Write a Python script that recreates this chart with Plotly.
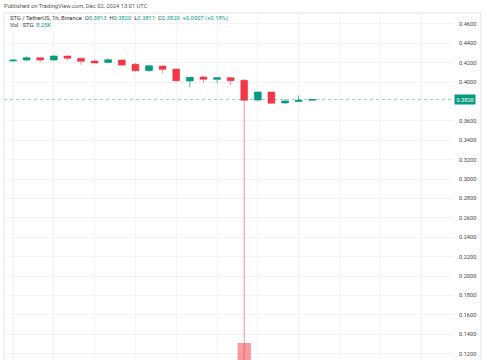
import plotly.graph_objects as go
import pandas as pd

# ---- data ----
start = pd.Timestamp("2024-12-01 15:00")
times = [start + pd.Timedelta(hours=i) for i in range(23)]
opens = [0.4218, 0.4227, 0.4251, 0.4227, 0.4268, 0.4245, 0.4217, 0.4203, 0.4227, 0.4183,
         0.4117, 0.4165, 0.4134, 0.4011, 0.4052, 0.4028, 0.4045, 0.4018, 0.3815, 0.3897,
         0.3785, 0.3800, 0.3813]
highs = [0.4238, 0.4265, 0.4254, 0.4279, 0.4275, 0.4250, 0.4234, 0.4245, 0.4232, 0.4196,
         0.4172, 0.4170, 0.4137, 0.4052, 0.4062, 0.4050, 0.4052, 0.4031, 0.3900, 0.3899,
         0.3825, 0.3863, 0.3820]
lows = [0.4210, 0.4222, 0.4204, 0.4220, 0.4220, 0.4179, 0.4192, 0.4197, 0.4165, 0.4107,
        0.4107, 0.4090, 0.4003, 0.3946, 0.3993, 0.3987, 0.3966, 0.0900, 0.3801, 0.3779,
        0.3774, 0.3797, 0.3811]
closes = [0.4226, 0.4251, 0.4227, 0.4268, 0.4245, 0.4214, 0.4197, 0.4230, 0.4175, 0.4117,
          0.4168, 0.4131, 0.4014, 0.4049, 0.4028, 0.4045, 0.4014, 0.3812, 0.3897, 0.3781,
          0.3805, 0.3813, 0.3820]
volumes = [12000, 9000, 11000, 15000, 10000, 14000, 9000, 8000, 16000, 30000,
           20000, 18000, 45000, 35000, 15000, 12000, 20000, 2000000, 90000, 60000,
           25000, 15000, 8250]
price_ticks = [0.12, 0.14, 0.16, 0.18, 0.20, 0.22, 0.24, 0.26, 0.28, 0.30, 0.32, 0.34,
               0.36, 0.40, 0.42, 0.44, 0.46]
price_tick_labels = [f"{v:.4f}" for v in price_ticks]

GREEN = "#089981"
RED = "#F23645"

vol_colors = ["rgba(8,153,129,0.5)" if c >= o else "rgba(242,54,69,0.5)"
              for o, c in zip(opens, closes)]

fig = go.Figure()
vmax = max(volumes)
fig.add_trace(go.Bar(x=times, y=volumes, marker_color=vol_colors, marker_line_width=0,
                     yaxis="y2", hoverinfo="skip", showlegend=False))
fig.add_trace(go.Candlestick(
    x=times, open=opens, high=highs, low=lows, close=closes,
    increasing=dict(line=dict(color="rgba(8,153,129,0.65)", width=1), fillcolor=GREEN),
    decreasing=dict(line=dict(color="rgba(242,54,69,0.55)", width=1), fillcolor=RED),
    showlegend=False, whiskerwidth=0))

hour = pd.Timedelta(hours=1)
last = closes[-1]
G = "<span style='color:#089981'>"

fig.update_layout(
    width=485, height=360,
    margin=dict(l=4, r=32, t=14, b=0),
    paper_bgcolor="white", plot_bgcolor="white",
    bargap=0.02, boxgap=0.28,
    font=dict(family="Roboto, sans-serif", size=6, color="#333"),
    xaxis=dict(type="date", range=[start - 0.662 * hour, start + 32.35 * hour],
               rangeslider=dict(visible=False), showticklabels=False,
               tick0=start, dtick=3 * 3600 * 1000, showgrid=True,
               gridcolor="#f0f3fa", gridwidth=1, zeroline=False, showline=False),
    yaxis=dict(side="right", range=[0.1134, 0.4702], tickvals=price_ticks,
               ticktext=price_tick_labels, showgrid=True, gridcolor="#f0f3fa",
               gridwidth=1, zeroline=False, ticks="outside", ticklen=4,
               tickcolor="rgba(0,0,0,0)", tickfont=dict(size=5.6, color="#444")),
    yaxis2=dict(overlaying="y", range=[0.673 * vmax, 7.33 * vmax], visible=False,
                showgrid=False),
    shapes=[
        dict(type="line", xref="paper", yref="y", x0=0, x1=1, y0=last, y1=last,
             line=dict(color="rgba(8,153,129,0.45)", width=1, dash="dot")),
        dict(type="line", xref="paper", yref="paper", x0=0, x1=1.062, y0=1.003, y1=1.003,
             line=dict(color="#e0e3eb", width=1)),
        dict(type="line", xref="paper", yref="paper", x0=0, x1=0, y0=0, y1=1.003,
             line=dict(color="#e0e3eb", width=1)),
        dict(type="line", xref="paper", yref="paper", x0=1.062, x1=1.062, y0=0, y1=1.003,
             line=dict(color="#e0e3eb", width=1)),
    ],
    annotations=[
        dict(xref="paper", yref="y", x=1, y=last, xanchor="left", xshift=1,
             text=f"{last:.4f}", showarrow=False, bgcolor=GREEN,
             font=dict(size=5.6, color="white"), borderpad=1.5),
        dict(xref="paper", yref="paper", x=-0.005, y=1.023, xanchor="left", yanchor="middle",
             text="Published on TradingView.com, Dec 02, 2024 13:01 UTC", showarrow=False,
             font=dict(size=5.8, color="#555")),
        dict(xref="paper", yref="paper", x=0.008, y=0.988, xanchor="left", yanchor="middle",
             text=(f"STG / TetherUS, 1h, Binance  O{G}0.3813</span>"
                   f"  H{G}0.3820</span>"
                   f"  L{G}0.3811</span>"
                   f"  C{G}0.3820</span>"
                   f"  {G}+0.0007 (+0.18%)</span>"),
             showarrow=False, font=dict(size=5.8, color="#333")),
        dict(xref="paper", yref="paper", x=0.008, y=0.968, xanchor="left", yanchor="middle",
             text=f"Vol · STG  {G}8.25K</span>",
             showarrow=False, font=dict(size=5.8, color="#333")),
    ],
)

fig.write_html("out.html", config={"displayModeBar": False},
               post_script="document.body.style.margin='0';")
